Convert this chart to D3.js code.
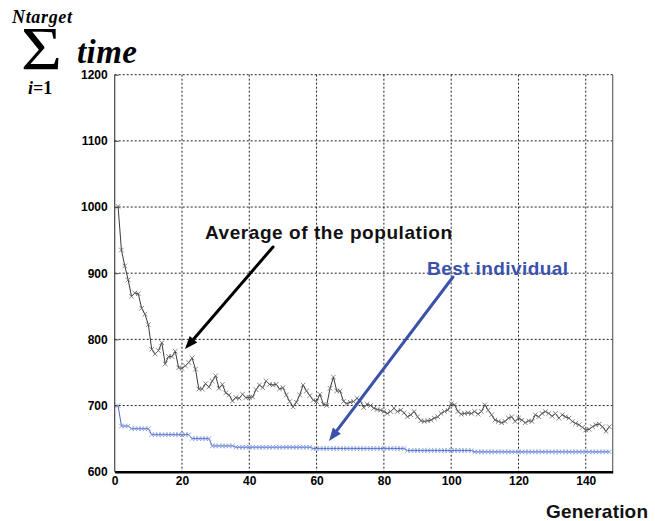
<!DOCTYPE html>
<html>
<head>
<meta charset="utf-8">
<script src="https://d3js.org/d3.v7.min.js"></script>
<style>
  body { margin: 0; background: #fff; }
  svg { display: block; }
  .tick text { font-family: "Liberation Sans Narrow", "Liberation Sans", Arial, sans-serif; font-weight: bold; font-size: 12px; fill: #000; }
</style>
</head>
<body>
<svg id="chart" width="655" height="521"></svg>
<script>
// values, one per generation (1..147)
var averagePop = [
  1001, 935, 911, 890, 865, 870, 869, 847, 838, 822,
  785, 778, 783, 795, 763, 774, 774, 782, 757, 756,
  760, 765, 772, 755, 725, 725, 733, 728, 737, 745,
  726, 732, 719, 716, 707, 712, 711, 717, 712, 712,
  713, 724, 731, 727, 737, 732, 731, 732, 725, 727,
  716, 706, 698, 705, 716, 731, 722, 715, 708, 706,
  717, 702, 700, 726, 743, 722, 722, 706, 703, 705,
  706, 711, 707, 697, 702, 700, 696, 694, 693, 691,
  688, 691, 696, 691, 693, 689, 683, 686, 691, 683,
  677, 676, 677, 678, 681, 683, 688, 691, 693, 703,
  701, 691, 687, 688, 689, 688, 691, 687, 691, 701,
  693, 686, 678, 676, 674, 676, 681, 683, 676, 681,
  678, 674, 677, 676, 686, 683, 688, 691, 688, 684,
  688, 681, 686, 683, 681, 676, 673, 671, 667, 663,
  664, 668, 671, 672, 668, 661, 668
];
var bestIndiv = [
  700, 669, 669, 669, 665, 665, 665, 665, 665, 665,
  656, 656, 656, 656, 656, 656, 656, 656, 656, 656,
  656, 656, 650, 650, 650, 650, 650, 650, 639, 639,
  639, 639, 639, 639, 639, 637, 637, 637, 637, 637,
  637, 637, 637, 637, 637, 637, 637, 637, 637, 637,
  637, 637, 637, 637, 637, 637, 637, 637, 635, 635,
  635, 635, 635, 635, 635, 635, 635, 635, 635, 635,
  635, 635, 635, 635, 635, 635, 635, 635, 635, 635,
  635, 635, 635, 635, 635, 635, 632, 632, 632, 632,
  632, 632, 632, 632, 632, 632, 632, 632, 632, 632,
  632, 632, 632, 632, 632, 632, 630, 630, 630, 630,
  630, 630, 630, 630, 630, 630, 630, 630, 630, 630,
  630, 630, 630, 630, 630, 630, 630, 630, 630, 630,
  630, 630, 630, 630, 630, 630, 630, 630, 630, 630,
  630, 630, 630, 630, 630, 630, 630
];
var xTicks = [0, 20, 40, 60, 80, 100, 120, 140];
var yTicks = [600, 700, 800, 900, 1000, 1100, 1200];
var xLabel = "Generation";
var avgLabel = "Average of the population";
var bestLabel = "Best individual";

(function() {
var svg = d3.select("#chart");
var pLeft = 114.7, pRight = 612.7, pTop = 74.7, pBottom = 471.7;

var x = d3.scaleLinear().domain([0, 148]).range([pLeft, pRight]);
var y = d3.scaleLinear().domain([600, 1200]).range([pBottom, pTop]);

// grid
var grid = svg.append("g").attr("stroke", "#222").attr("stroke-width", 1).attr("stroke-dasharray", "2,2");
xTicks.slice(1).forEach(function(t) {
  grid.append("line").attr("x1", x(t)).attr("x2", x(t)).attr("y1", pTop).attr("y2", pBottom);
});
yTicks.slice(1).forEach(function(t) {
  grid.append("line").attr("x1", pLeft).attr("x2", pRight).attr("y1", y(t)).attr("y2", y(t));
});

// frame: thin on left/right, heavy bottom axis
svg.append("line").attr("x1", pLeft).attr("x2", pLeft).attr("y1", pTop).attr("y2", pBottom)
  .attr("stroke", "#444").attr("stroke-width", 1.2);
svg.append("line").attr("x1", pRight).attr("x2", pRight).attr("y1", pTop).attr("y2", pBottom)
  .attr("stroke", "#666").attr("stroke-width", 1.2);

var yAxis = svg.append("g").attr("transform", "translate(" + pLeft + ",0)")
  .call(d3.axisLeft(y).tickValues(yTicks).tickSize(-4).tickPadding(7).tickFormat(d3.format("d")));
yAxis.select(".domain").remove();
yAxis.selectAll(".tick line").attr("stroke", "#444");

var xAxis = svg.append("g").attr("transform", "translate(0," + pBottom + ")")
  .call(d3.axisBottom(x).tickValues(xTicks).tickSize(0).tickPadding(5).tickFormat(d3.format("d")));
xAxis.select(".domain").attr("stroke", "#000").attr("stroke-width", 2.5);

// series
function drawSeries(data, lineColor, markColor, lw) {
  var line = d3.line()
    .x(function(d, i) { return x(i + 1); })
    .y(function(d) { return y(d); });
  svg.append("path").datum(data)
    .attr("fill", "none").attr("stroke", lineColor).attr("stroke-width", lw).attr("d", line);
  var s = 2.3;
  svg.append("g").selectAll("path").data(data).enter().append("path")
    .attr("d", function(d, i) {
      var cx = x(i + 1), cy = y(d);
      return "M" + (cx - s) + "," + (cy - s) + "L" + (cx + s) + "," + (cy + s) +
             "M" + (cx - s) + "," + (cy + s) + "L" + (cx + s) + "," + (cy - s);
    })
    .attr("stroke", markColor).attr("stroke-width", 0.8).attr("fill", "none");
}
drawSeries(bestIndiv, "#4a68c8", "#7d95dc", 1);
drawSeries(averagePop, "#222", "#666", 0.9);

// arrows
function arrow(x1, y1, x2, y2, color) {
  var ang = Math.atan2(y2 - y1, x2 - x1), len = 13, half = 5;
  var bx = x2 - len * Math.cos(ang), by = y2 - len * Math.sin(ang);
  svg.append("line").attr("x1", x1).attr("y1", y1).attr("x2", bx).attr("y2", by)
    .attr("stroke", color).attr("stroke-width", 3).attr("stroke-linecap", "round");
  svg.append("path")
    .attr("d", "M" + x2 + "," + y2 +
      "L" + (bx + half * Math.sin(ang)) + "," + (by - half * Math.cos(ang)) +
      "L" + (bx - half * Math.sin(ang)) + "," + (by + half * Math.cos(ang)) + "Z")
    .attr("fill", color);
}
arrow(273, 247, 185, 349, "#000");
arrow(453, 277, 329, 441, "#3a52ab");

svg.append("text").attr("x", 205).attr("y", 239).text(avgLabel)
  .attr("font-family", "Liberation Sans, Arial, sans-serif").attr("font-weight", "bold")
  .attr("font-size", 19).attr("textLength", 247).attr("fill", "#111");
svg.append("text").attr("x", 427).attr("y", 274.5).text(bestLabel)
  .attr("font-family", "Liberation Sans, Arial, sans-serif").attr("font-weight", "bold")
  .attr("font-size", 19).attr("textLength", 141).attr("fill", "#3a52ab");
svg.append("text").attr("x", 546).attr("y", 518).text(xLabel)
  .attr("font-family", "Liberation Sans, Arial, sans-serif").attr("font-weight", "bold")
  .attr("font-size", 19).attr("textLength", 102).attr("fill", "#111");

// sum formula used as the y label
var serif = "Liberation Serif, Times New Roman, serif";
svg.append("text").attr("x", 12).attr("y", 23).text("Ntarget")
  .attr("font-family", serif).attr("font-weight", "bold").attr("font-style", "italic")
  .attr("font-size", 18).attr("textLength", 60);
svg.append("text").attr("x", 21).attr("y", 68.5).text("\u03A3")
  .attr("font-family", serif).attr("font-size", 62).attr("textLength", 41).attr("lengthAdjust", "spacingAndGlyphs");
svg.append("text").attr("x", 77).attr("y", 62.5).text("time")
  .attr("font-family", serif).attr("font-weight", "bold").attr("font-style", "italic")
  .attr("font-size", 33).attr("textLength", 60);
var ieq = svg.append("text").attr("x", 28).attr("y", 94).attr("font-family", serif)
  .attr("font-weight", "bold").attr("font-size", 18);
ieq.append("tspan").attr("font-style", "italic").text("i");
ieq.append("tspan").text("=1");
})();
</script>
</body>
</html>
